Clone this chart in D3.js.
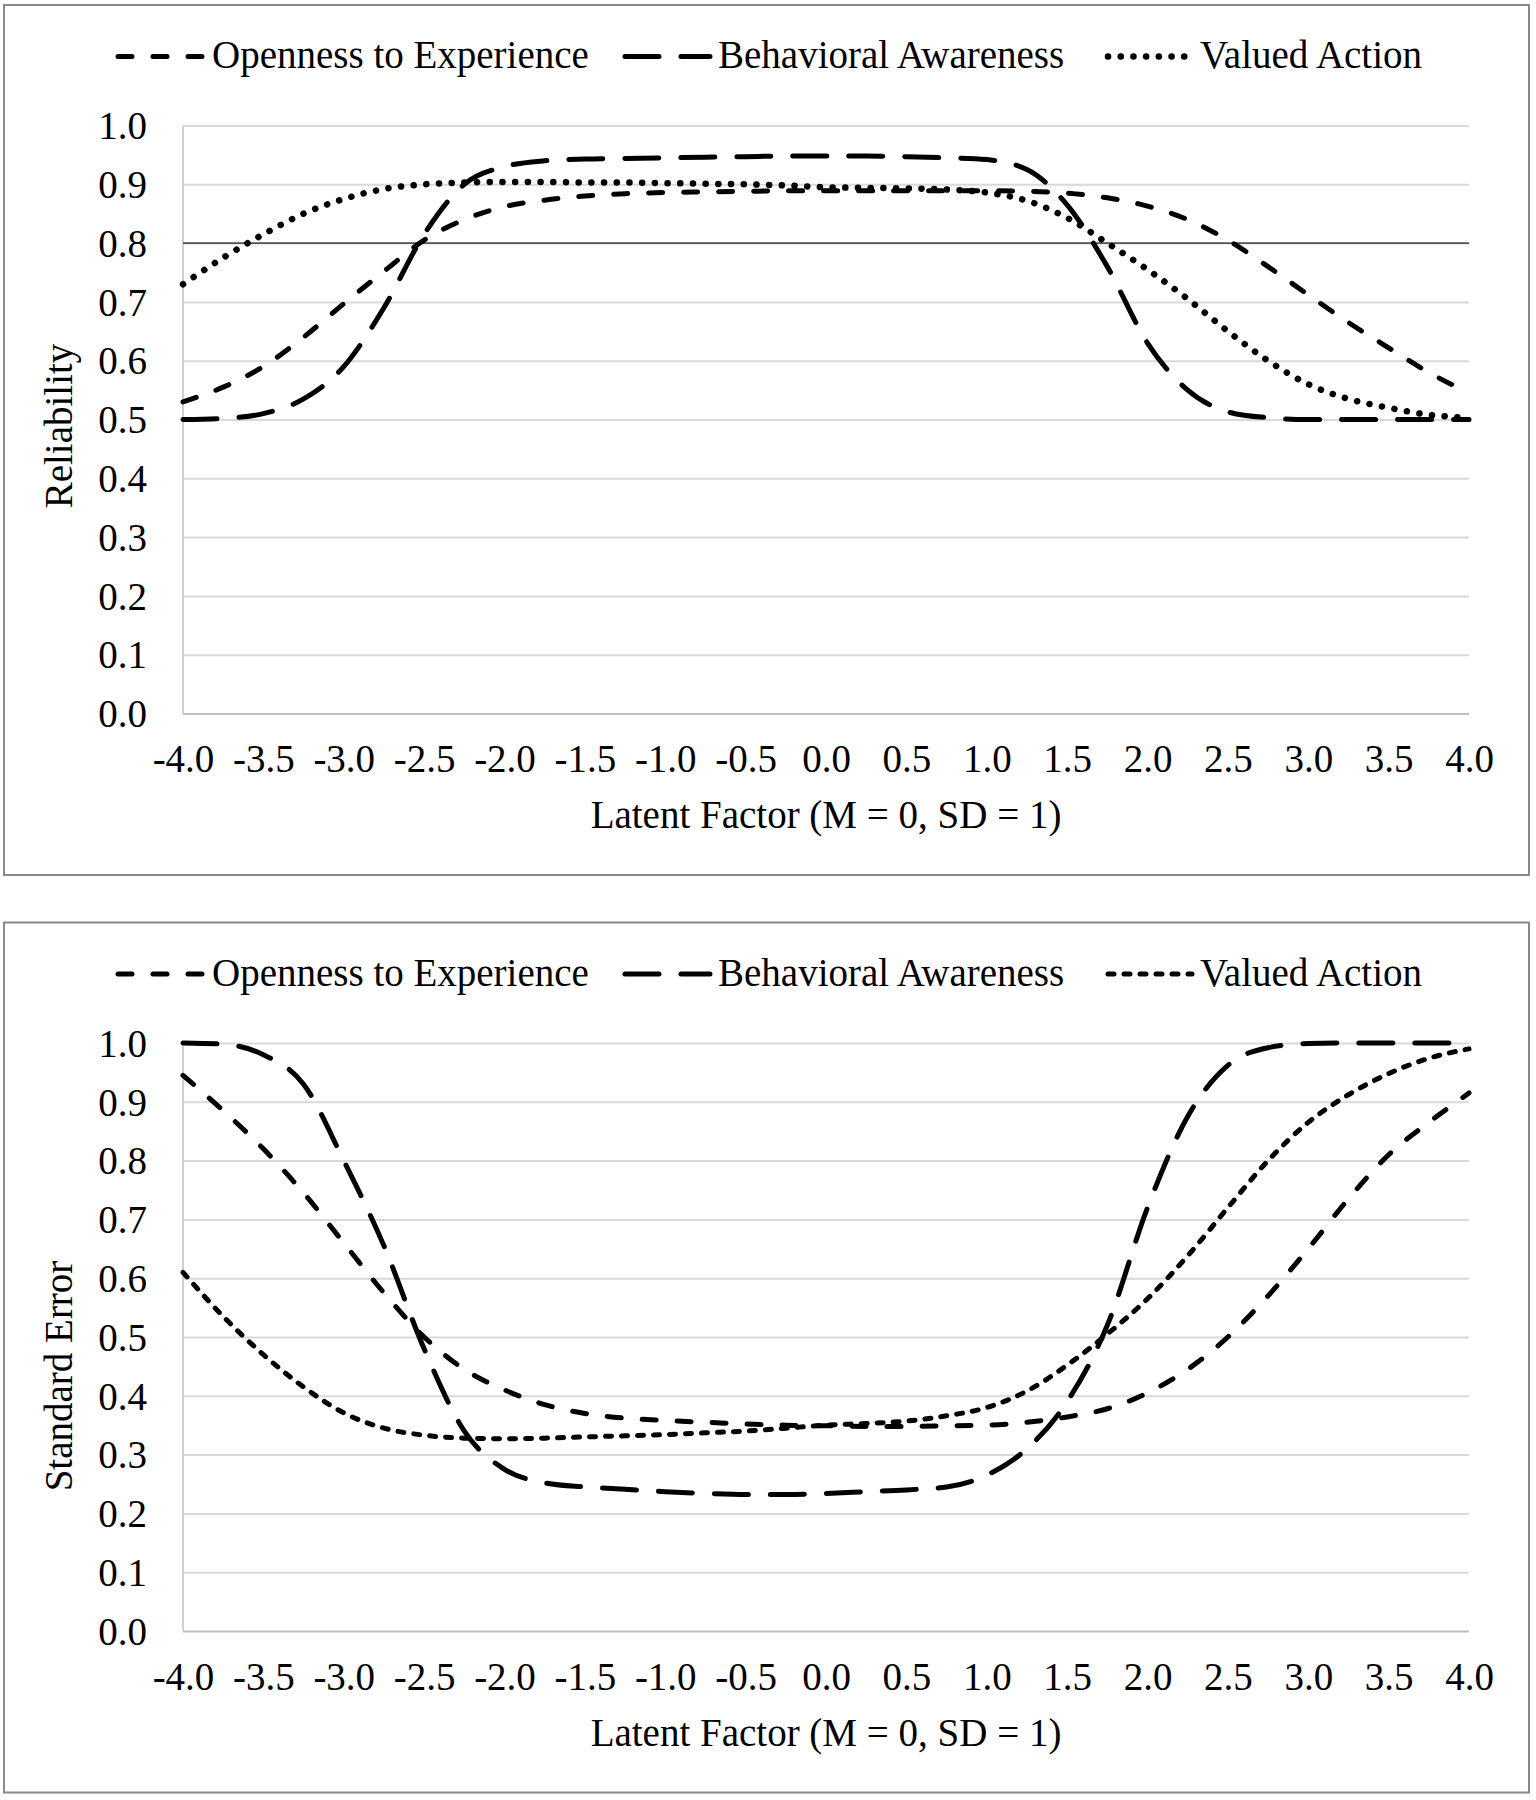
<!DOCTYPE html>
<html><head><meta charset="utf-8">
<script src="https://cdn.jsdelivr.net/npm/d3@7"></script>
<style>
html,body{margin:0;padding:0;background:#fff;}
svg{display:block;}
text{font-family:"Liberation Serif","Times New Roman",serif;fill:#000;}
</style></head>
<body>
<svg id="chart" width="1536" height="1800"></svg>
<script>
// ---------- data ----------
const latentX = [-4, -3.75, -3.5, -3.25, -3, -2.75, -2.5, -2.25, -2, -1.75, -1.5, -1.25, -1, -0.75, -0.5, -0.25, 0, 0.25, 0.5, 0.75, 1, 1.25, 1.5, 1.75, 2, 2.25, 2.5, 2.75, 3, 3.25, 3.5, 3.75, 4];

const seriesNames = ["Openness to Experience", "Behavioral Awareness", "Valued Action"];

// Reliability panel
const relOpenness   = [0.53, 0.555, 0.59, 0.64, 0.697, 0.752, 0.805, 0.84, 0.862, 0.873, 0.88, 0.884, 0.886, 0.887, 0.888, 0.889, 0.889, 0.889, 0.889, 0.889, 0.889, 0.888, 0.885, 0.877, 0.863, 0.84, 0.805, 0.76, 0.712, 0.665, 0.622, 0.58, 0.545];
const relBehavioral = [0.50, 0.502, 0.51, 0.535, 0.59, 0.69, 0.815, 0.9, 0.93, 0.94, 0.943, 0.944, 0.945, 0.946, 0.947, 0.948, 0.948, 0.948, 0.947, 0.945, 0.942, 0.925, 0.865, 0.76, 0.63, 0.55, 0.513, 0.503, 0.50, 0.50, 0.50, 0.50, 0.50];
const relValued     = [0.73, 0.775, 0.815, 0.85, 0.875, 0.892, 0.90, 0.903, 0.904, 0.904, 0.903, 0.903, 0.902, 0.901, 0.90, 0.898, 0.895, 0.894, 0.893, 0.891, 0.886, 0.872, 0.843, 0.80, 0.755, 0.705, 0.65, 0.60, 0.56, 0.535, 0.52, 0.508, 0.503];
const relCutoff = 0.8;

// Standard error panel
const seOpenness   = [0.945, 0.885, 0.82, 0.745, 0.66, 0.575, 0.50, 0.445, 0.41, 0.385, 0.37, 0.362, 0.358, 0.355, 0.352, 0.35, 0.349, 0.348, 0.348, 0.349, 0.35, 0.355, 0.364, 0.378, 0.405, 0.445, 0.50, 0.57, 0.65, 0.735, 0.81, 0.865, 0.915];
const seBehavioral = [1.0, 0.998, 0.98, 0.93, 0.80, 0.655, 0.48, 0.34, 0.275, 0.252, 0.245, 0.241, 0.237, 0.234, 0.232, 0.232, 0.234, 0.237, 0.24, 0.245, 0.265, 0.31, 0.39, 0.52, 0.72, 0.875, 0.962, 0.992, 0.999, 1.0, 1.0, 1.0, 1.0];
const seValued     = [0.61, 0.535, 0.47, 0.415, 0.371, 0.345, 0.333, 0.328, 0.327, 0.328, 0.33, 0.332, 0.334, 0.337, 0.34, 0.345, 0.35, 0.353, 0.357, 0.366, 0.38, 0.408, 0.452, 0.505, 0.565, 0.638, 0.72, 0.80, 0.865, 0.912, 0.948, 0.974, 0.99];

const xTickValues = [-4, -3.5, -3, -2.5, -2, -1.5, -1, -0.5, 0, 0.5, 1, 1.5, 2, 2.5, 3, 3.5, 4];
const xTickLabels = ["-4.0", "-3.5", "-3.0", "-2.5", "-2.0", "-1.5", "-1.0", "-0.5", "0.0", "0.5", "1.0", "1.5", "2.0", "2.5", "3.0", "3.5", "4.0"];
const yTickValues = [0, 0.1, 0.2, 0.3, 0.4, 0.5, 0.6, 0.7, 0.8, 0.9, 1.0];
const yTickLabels = ["0.0", "0.1", "0.2", "0.3", "0.4", "0.5", "0.6", "0.7", "0.8", "0.9", "1.0"];

const xTitle = "Latent Factor (M = 0, SD = 1)";
const panelTitles = ["Reliability", "Standard Error"];

// ---------- layout / styles ----------
const FONT = 39;
const plotL = 183, plotR = 1469, plotT = 125.5, plotB = 713.5;
const panelOffsets = [0, 917.5];

const styles = {
  openness:   {w: 5, dash: "14 21"},
  behavioral: {w: 5, dash: "34 22"},
  valuedDot:  {w: 6.5, dash: "0.1 12.6"},
  valuedSq:   {w: 5, dash: "6 10"}
};

const svg = d3.select("#chart");
const x = d3.scaleLinear().domain([-4, 4]).range([plotL, plotR]);
const y = d3.scaleLinear().domain([0, 1]).range([plotB, plotT]);

function drawPanel(off, series, title, yTitleCenter, cutoff) {
  const g = svg.append("g").attr("transform", `translate(0,${off})`);
  g.append("rect").attr("x", 4).attr("y", 5).attr("width", 1525).attr("height", 870)
    .attr("fill", "#fff").attr("stroke", "#8a8a8a").attr("stroke-width", 2);

  // y axis with gridlines
  const ya = g.append("g").attr("transform", `translate(${plotL},0)`)
    .call(d3.axisLeft(y).tickValues(yTickValues).tickFormat((d, i) => yTickLabels[i])
      .tickSize(-(plotR - plotL)).tickPadding(36));
  ya.select(".domain").remove();
  ya.selectAll(".tick line").attr("stroke", (d) => d === 0 ? "#bfbfbf" : "#d9d9d9").attr("stroke-width", 2);
  ya.selectAll(".tick text").attr("font-size", FONT).attr("font-family", "Liberation Serif").attr("dy", "0.34em");

  // left axis line
  g.append("line").attr("x1", plotL).attr("x2", plotL).attr("y1", y(1)).attr("y2", y(0))
    .attr("stroke", "#d0d0d0").attr("stroke-width", 2);

  // x axis
  const xa = g.append("g").attr("transform", `translate(0,${plotB})`)
    .call(d3.axisBottom(x).tickValues(xTickValues).tickFormat((d, i) => xTickLabels[i])
      .tickSize(0).tickPadding(31));
  xa.select(".domain").remove();
  xa.selectAll(".tick text").attr("font-size", FONT).attr("font-family", "Liberation Serif");

  if (cutoff != null) {
    g.append("line").attr("x1", x(-4)).attr("x2", x(4)).attr("y1", y(cutoff)).attr("y2", y(cutoff))
      .attr("stroke", "#555").attr("stroke-width", 1.6);
  }

  const line = d3.line().x((d, i) => x(latentX[i])).y(d => y(d)).curve(d3.curveMonotoneX);
  series.forEach(s => {
    g.append("path").datum(s.values).attr("d", line)
      .attr("fill", "none").attr("stroke", "#000").attr("stroke-width", s.style.w)
      .attr("stroke-dasharray", s.style.dash).attr("stroke-linecap", "round");
  });

  // axis titles
  g.append("text").attr("x", (plotL + plotR) / 2).attr("y", 828).attr("text-anchor", "middle")
    .attr("font-size", FONT).text(xTitle);
  g.append("text").attr("transform", `translate(72,${yTitleCenter}) rotate(-90)`)
    .attr("text-anchor", "middle").attr("font-size", FONT).text(title);

  // legend
  const legX = [[118, 203, 212], [625, 710, 718], [1108, 1192, 1200]];
  series.forEach((s, i) => {
    const [a, b, t] = legX[i];
    g.append("line").attr("x1", a).attr("x2", b).attr("y1", 56.5).attr("y2", 56.5)
      .attr("stroke", "#000").attr("stroke-width", s.style.w)
      .attr("stroke-dasharray", s.style.dash).attr("stroke-linecap", "round");
    g.append("text").attr("x", t).attr("y", 68).attr("font-size", FONT).text(seriesNames[i]);
  });
}

drawPanel(panelOffsets[0], [
  {values: relOpenness, style: styles.openness},
  {values: relBehavioral, style: styles.behavioral},
  {values: relValued, style: styles.valuedDot}
], panelTitles[0], 426, relCutoff);

drawPanel(panelOffsets[1], [
  {values: seOpenness, style: styles.openness},
  {values: seBehavioral, style: styles.behavioral},
  {values: seValued, style: styles.valuedSq}
], panelTitles[1], 1376 - panelOffsets[1], null);
</script>
</body></html>
